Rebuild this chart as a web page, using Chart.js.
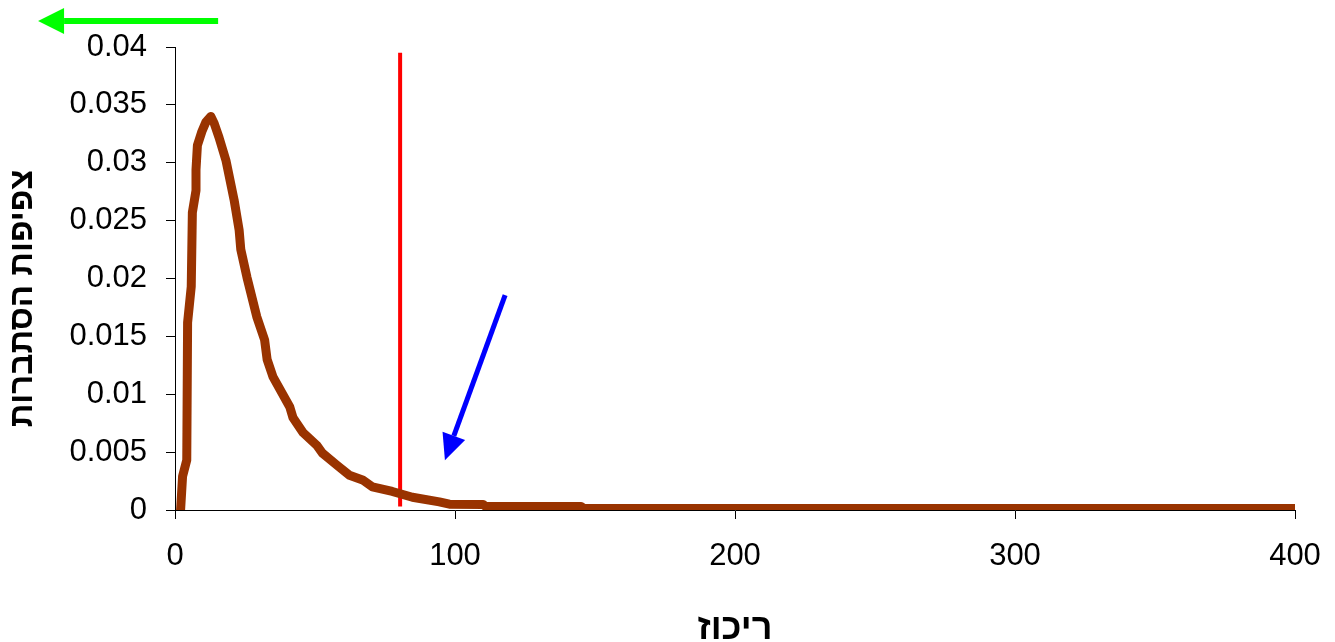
<!DOCTYPE html>
<html>
<head>
<meta charset="utf-8">
<script src="https://cdn.jsdelivr.net/npm/chart.js@4/dist/chart.umd.min.js"></script>
<style>
  html, body { margin: 0; padding: 0; background: #fff; }
  #wrap { width: 1335px; height: 642px; }
</style>
</head>
<body>
<div id="wrap"><canvas id="densityChart"></canvas></div>
<script>
// concentration (x) and probability density (y)
const concentration = [2, 2.7, 4.2, 4.5, 5.8, 6.2, 7.5, 7.5, 8, 9.6, 11, 12.8, 14, 15.7, 18.2, 21.1, 22.9, 23.5,
    25.7, 29.2, 32, 32.9, 35, 41, 42.1, 45.7, 50.6, 52.7, 57.7, 62.3, 67, 70.5, 77.6, 84.8, 94.4, 98,
    110, 111, 145, 146, 401];
const density = [0, 0.0029, 0.0043, 0.0162, 0.0193, 0.0257, 0.0276, 0.0294, 0.0315, 0.0327, 0.0335, 0.034,
    0.0334, 0.0322, 0.0302, 0.0268, 0.0242, 0.0225, 0.0201, 0.0167, 0.0147, 0.013, 0.0115, 0.0089, 0.008,
    0.0067, 0.0056, 0.0049, 0.0039, 0.003, 0.0026, 0.002, 0.0016, 0.0011, 0.0007, 0.0005,
    0.00048, 0.0003, 0.0003, 0.00013, 0.00013];

// red marker line
const markerX = [80.4, 80.4];
const markerY = [0.0003, 0.0395];

// arrows: [fromX, fromY, toX, toY]
const blueArrow = [117.9, 0.01857, 96.4, 0.0043];
const greenArrow = [15.4, 0.04225, -48.9, 0.04225];

const xTicks = [0, 100, 200, 300, 400];
const yTickLabels = ['0', '0.005', '0.01', '0.015', '0.02', '0.025', '0.03', '0.035', '0.04'];

const xTitle = 'ריכוז';
const yTitle = 'צפיפות הסתברות';

const curvePoints = concentration.map((x, i) => ({ x: x, y: density[i] }));
const markerPoints = markerX.map((x, i) => ({ x: x, y: markerY[i] }));

function drawArrow(ctx, chart, a, color, width, headLen, headHalf) {
    const xs = chart.scales.x, ys = chart.scales.y;
    const x1 = xs.getPixelForValue(a[0]), y1 = ys.getPixelForValue(a[1]);
    const x2 = xs.getPixelForValue(a[2]), y2 = ys.getPixelForValue(a[3]);
    const ang = Math.atan2(y2 - y1, x2 - x1);
    const bx = x2 - headLen * Math.cos(ang), by = y2 - headLen * Math.sin(ang);
    ctx.strokeStyle = color;
    ctx.fillStyle = color;
    ctx.lineWidth = width;
    ctx.lineCap = 'butt';
    ctx.beginPath();
    ctx.moveTo(x1, y1);
    ctx.lineTo(bx, by);
    ctx.stroke();
    ctx.beginPath();
    ctx.moveTo(x2, y2);
    ctx.lineTo(bx + headHalf * Math.sin(ang), by - headHalf * Math.cos(ang));
    ctx.lineTo(bx - headHalf * Math.sin(ang), by + headHalf * Math.cos(ang));
    ctx.closePath();
    ctx.fill();
}

const extras = {
    id: 'extras',
    afterDraw(chart) {
        const ctx = chart.ctx;
        const area = chart.chartArea;
        ctx.save();
        drawArrow(ctx, chart, blueArrow, '#0000ff', 5, 26, 12);
        drawArrow(ctx, chart, greenArrow, '#00ff00', 6, 26, 13);

        // axis titles
        ctx.fillStyle = '#000';
        ctx.textAlign = 'center';
        ctx.textBaseline = 'middle';
        ctx.font = 'bold 36px "Liberation Sans", Arial, sans-serif';
        ctx.fillText(xTitle, (area.left + area.right) / 2, area.bottom + 119);
        ctx.font = 'bold 33px "Liberation Sans", Arial, sans-serif';
        ctx.translate(23, (area.top + area.bottom) / 2 + 20);
        ctx.rotate(-Math.PI / 2);
        ctx.fillText(yTitle, 0, 0);
        ctx.restore();
    }
};

const tickFont = { family: '"Liberation Sans", Arial, sans-serif', size: 31 };

new Chart(document.getElementById('densityChart'), {
    type: 'line',
    data: {
        datasets: [{
            data: curvePoints,
            borderColor: '#993300',
            borderWidth: 9,
            pointRadius: 0,
            borderJoinStyle: 'round',
            borderCapStyle: 'round',
            tension: 0,
            clip: 0
        }, {
            data: markerPoints,
            borderColor: '#ff0000',
            borderWidth: 4,
            pointRadius: 0
        }]
    },
    options: {
        responsive: true,
        maintainAspectRatio: false,
        animation: false,
        layout: { padding: { left: 0, top: 47, right: 40, bottom: 0 } },
        plugins: { legend: { display: false }, tooltip: { enabled: false } },
        scales: {
            x: {
                type: 'linear',
                min: 0,
                max: 400,
                afterFit: s => { s.height = 132; s.paddingLeft = 0; s.paddingRight = 0; },
                afterBuildTicks: s => { s.ticks = xTicks.map(v => ({ value: v })); },
                ticks: { color: '#000', font: tickFont, padding: 19, maxRotation: 0 },
                grid: { drawOnChartArea: false, drawTicks: true, tickLength: 9, color: '#000' },
                border: { display: true, color: '#000', width: 1 }
            },
            y: {
                min: 0,
                max: 0.04,
                afterFit: s => { s.width = 175; s.paddingTop = 0; s.paddingBottom = 0; },
                ticks: {
                    stepSize: 0.005,
                    color: '#000',
                    font: tickFont,
                    padding: 19,
                    callback: (v, i) => yTickLabels[i]
                },
                grid: { drawOnChartArea: false, drawTicks: true, tickLength: 9, color: '#000' },
                border: { display: true, color: '#000', width: 1 }
            }
        }
    },
    plugins: [extras]
});
</script>
</body>
</html>
